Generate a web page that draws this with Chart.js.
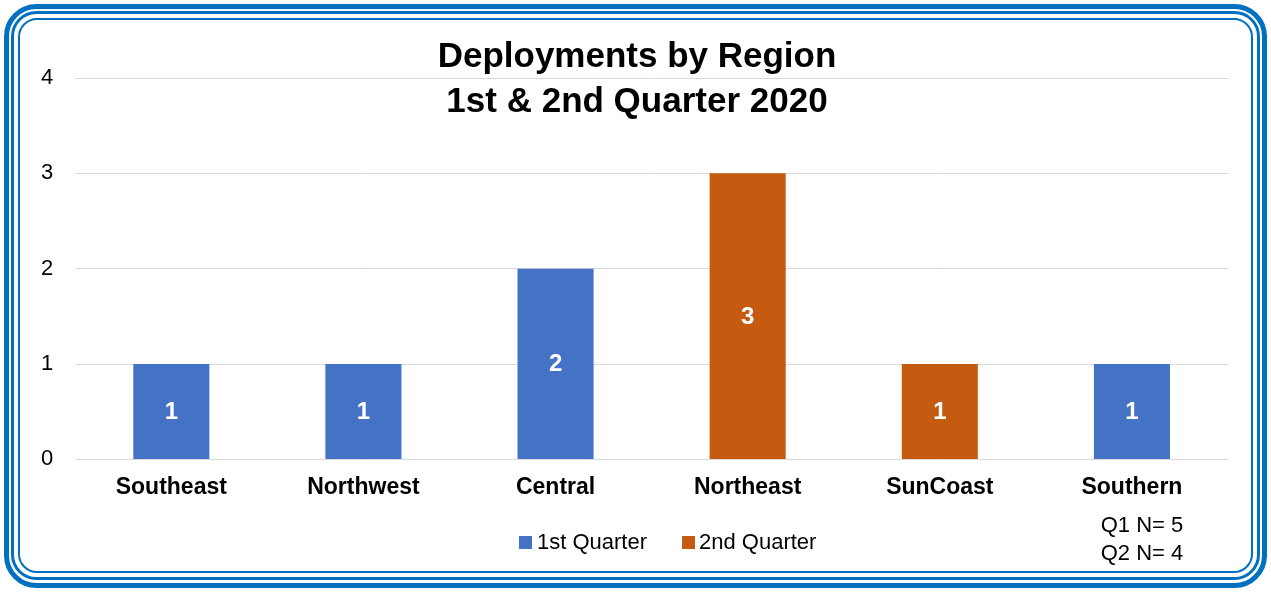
<!DOCTYPE html>
<html>
<head>
<meta charset="utf-8">
<script src="https://cdn.jsdelivr.net/npm/chart.js@4/dist/chart.umd.min.js"></script>
<style>
  body { margin: 0; background: #fff; }
  #wrap { width: 1271px; height: 592px; position: relative; }
</style>
</head>
<body>
<div id="wrap"><canvas id="myChart"></canvas></div>
<script>
const regions = ["Southeast", "Northwest", "Central", "Northeast", "SunCoast", "Southern"]
const q1Values = [1, 1, 2, null, null, 1]
const q2Values = [null, null, null, 3, 1, null]
const yTicks = [0, 1, 2, 3, 4]
const titleLines = ["Deployments by Region", "1st & 2nd Quarter 2020"]
const noteLines = ["Q1 N= 5", "Q2 N= 4"]

const FONT = "'Liberation Sans', Arial, sans-serif"
const BLUE = "#4472C4"
const ORANGE = "#C55A11"
const FRAME = "#0070C0"

function roundRect(ctx, x, y, w, h, r) {
  ctx.beginPath()
  ctx.moveTo(x + r, y)
  ctx.lineTo(x + w - r, y)
  ctx.arcTo(x + w, y, x + w, y + r, r)
  ctx.lineTo(x + w, y + h - r)
  ctx.arcTo(x + w, y + h, x + w - r, y + h, r)
  ctx.lineTo(x + r, y + h)
  ctx.arcTo(x, y + h, x, y + h - r, r)
  ctx.lineTo(x, y + r)
  ctx.arcTo(x, y, x + r, y, r)
  ctx.closePath()
}

// white background and the triple blue frame
const framePlugin = {
  id: "frame",
  beforeDraw(chart) {
    const ctx = chart.ctx
    ctx.save()
    ctx.fillStyle = "#fff"
    ctx.fillRect(0, 0, chart.width, chart.height)
    ctx.strokeStyle = FRAME
    ctx.lineWidth = 5
    roundRect(ctx, 6.5, 6.5, 1258, 579, 30)
    ctx.stroke()
    ctx.lineWidth = 3
    roundRect(ctx, 12.5, 12.5, 1246, 566, 24)
    ctx.stroke()
    ctx.lineWidth = 2
    roundRect(ctx, 19, 19, 1233, 553, 18)
    ctx.stroke()
    ctx.restore()
  }
}

// value labels, title, legend and N notes
const textPlugin = {
  id: "texts",
  afterDatasetsDraw(chart) {
    const ctx = chart.ctx
    ctx.save()
    ctx.fillStyle = "#fff"
    ctx.font = "bold 24px " + FONT
    ctx.textAlign = "center"
    ctx.textBaseline = "middle"
    chart.data.datasets.forEach((ds, i) => {
      chart.getDatasetMeta(i).data.forEach((bar, j) => {
        const v = ds.data[j]
        if (v === null || v === undefined) return
        ctx.fillText(String(v), bar.x, (bar.y + bar.base) / 2 + 1)
      })
    })
    ctx.restore()
  },
  afterDraw(chart) {
    const ctx = chart.ctx
    ctx.save()
    ctx.fillStyle = "#000"
    ctx.textAlign = "center"
    ctx.textBaseline = "middle"
    ctx.font = "bold 35px " + FONT
    ctx.fillText(titleLines[0], 637, 57)
    ctx.fillText(titleLines[1], 637, 102)

    // legend
    const legendPos = [{ box: 519, text: 537 }, { box: 682, text: 699 }]
    ctx.font = "22px " + FONT
    ctx.textAlign = "left"
    chart.data.datasets.forEach((ds, i) => {
      const p = legendPos[i]
      ctx.fillStyle = ds.backgroundColor
      ctx.fillRect(p.box, 536, 13, 13)
      ctx.fillStyle = "#000"
      ctx.fillText(ds.label, p.text, 543)
    })

    ctx.textAlign = "center"
    ctx.fillText(noteLines[0], 1142, 526)
    ctx.fillText(noteLines[1], 1142, 554)
    ctx.restore()
  }
}

const ctx = document.getElementById("myChart").getContext("2d")
new Chart(ctx, {
  type: "bar",
  data: {
    labels: regions,
    datasets: [
      {
        label: "1st Quarter",
        data: q1Values,
        backgroundColor: BLUE,
        borderWidth: 0,
        categoryPercentage: 1,
        barPercentage: 0.396
      },
      {
        label: "2nd Quarter",
        data: q2Values,
        backgroundColor: ORANGE,
        borderWidth: 0,
        categoryPercentage: 1,
        barPercentage: 0.396
      }
    ]
  },
  options: {
    responsive: true,
    maintainAspectRatio: false,
    animation: false,
    layout: { padding: { left: 19, right: 43, top: 78, bottom: 77 } },
    plugins: {
      legend: { display: false },
      title: { display: false },
      tooltip: { enabled: false }
    },
    scales: {
      x: {
        stacked: true,
        grid: { display: false, drawTicks: false },
        border: { display: false },
        ticks: {
          color: "#000",
          padding: 14,
          font: { family: FONT, size: 23, weight: "bold" }
        }
      },
      y: {
        stacked: true,
        min: yTicks[0],
        max: yTicks[yTicks.length - 1],
        afterBuildTicks(scale) {
          scale.ticks = yTicks.map(v => ({ value: v }))
        },
        grid: { color: "#D9D9D9", lineWidth: 1, drawTicks: false },
        border: { display: false },
        ticks: {
          color: "#000",
          padding: 22,
          font: { family: FONT, size: 22 }
        }
      }
    }
  },
  plugins: [framePlugin, textPlugin]
})
</script>
</body>
</html>
